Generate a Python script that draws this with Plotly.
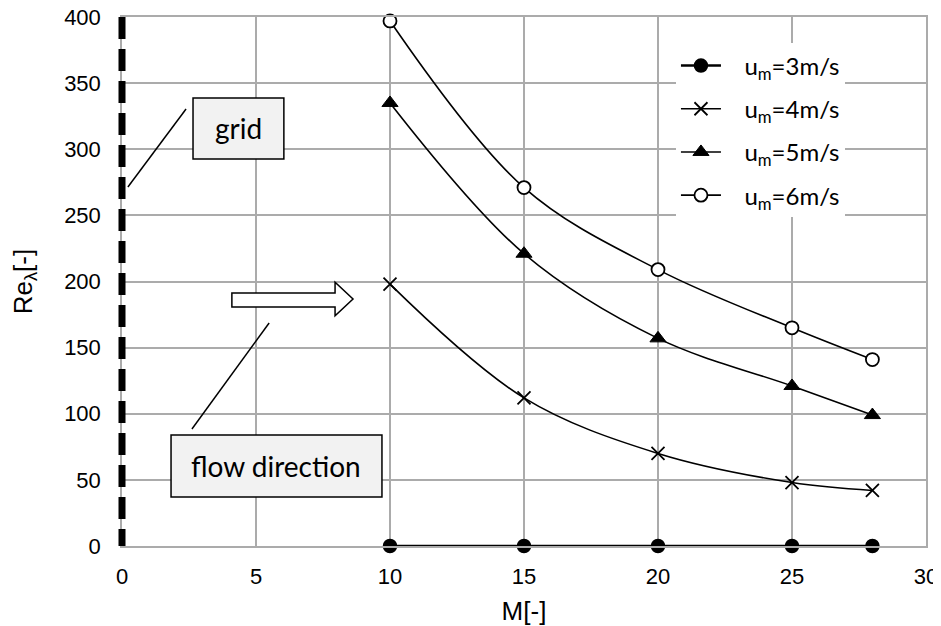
import plotly.graph_objects as go

# ---- data ----
M_values = [10, 15, 20, 25, 28]
re_3ms = [0, 0, 0, 0, 0]
re_4ms = [198, 112, 70, 48, 42]
re_5ms = [335, 221, 157, 121, 99]
re_6ms = [397, 271, 209, 165, 141]
series_names = ["u<sub>m</sub>=3m/s", "u<sub>m</sub>=4m/s", "u<sub>m</sub>=5m/s", "u<sub>m</sub>=6m/s"]
x_ticks = [0, 5, 10, 15, 20, 25, 30]
y_ticks = [0, 50, 100, 150, 200, 250, 300, 350, 400]

LABEL_FONT = "Lato"
TICK_FONT = "Liberation Sans"
PAD = "\u00a0" * 3  # gap between legend symbol and legend text

fig = go.Figure()

styles = [
    dict(symbol="circle", size=13, color="black", line=dict(color="black", width=1.5)),
    dict(symbol="x-thin-open", size=13, color="black", line=dict(color="black", width=1.8)),
    dict(symbol="triangle-up", size=14, color="black", line=dict(color="black", width=1)),
    dict(symbol="circle", size=13, color="white", line=dict(color="black", width=1.8)),
]
widths = [2.6, 1.6, 1.6, 1.6]
for i, (vals, name) in enumerate(zip([re_3ms, re_4ms, re_5ms, re_6ms], series_names)):
    fig.add_trace(go.Scatter(
        x=M_values, y=vals, name=PAD + name, mode="lines+markers",
        line=dict(color="black", width=widths[i], shape="spline", smoothing=1.0),
        marker=styles[i], cliponaxis=False, legendgroup=f"g{i}",
    ))

# dashed thick line marking the grid position (left edge of the plot, x = 0)
fig.add_shape(type="line", x0=0, x1=0, y0=1, y1=0, xref="paper", yref="paper",
              line=dict(color="black", width=7, dash="22px,10px"), layer="above")

# "grid" callout
fig.add_shape(type="line", x0=2.39, y0=330.4, x1=0.22, y1=271.5,
              line=dict(color="black", width=1.5))
fig.add_shape(type="rect", x0=2.65, x1=6.04, y0=292.6, y1=338.8,
              line=dict(color="black", width=1.5), fillcolor="#f2f2f2")
fig.add_annotation(x=4.35, y=315.7, text="grid", showarrow=False,
                   font=dict(family=LABEL_FONT, size=28, color="black"))

# block arrow for flow direction
arrow_path = ("M 4.10,191.3 L 7.95,191.3 L 7.95,199.5 L 8.62,186.8 "
              "L 7.95,174.1 L 7.95,180.7 L 4.10,180.7 Z")
fig.add_shape(type="path", path=arrow_path, xref="x", yref="y",
              line=dict(color="black", width=1.5), fillcolor="white")

# "flow direction" callout
fig.add_shape(type="line", x0=5.49, y0=168.6, x1=2.61, y1=88.5,
              line=dict(color="black", width=1.5))
fig.add_shape(type="rect", x0=1.83, x1=9.70, y0=37.1, y1=83.9,
              line=dict(color="black", width=1.5), fillcolor="#f2f2f2")
fig.add_annotation(x=5.76, y=60.5, text="flow direction", showarrow=False,
                   font=dict(family=LABEL_FONT, size=28, color="black"))

axis_common = dict(
    showgrid=True, gridcolor="#ababab", gridwidth=1.5,
    showline=True, linecolor="#ababab", linewidth=1.5, mirror=True,
    zeroline=False, ticks="", automargin=False, ticklabeloverflow="allow",
    tickfont=dict(family=TICK_FONT, size=22, color="black"),
)

fig.update_xaxes(range=[0, 30], tickvals=x_ticks, ticklabelstandoff=10,
                 title=dict(text="M[-]", font=dict(family=TICK_FONT, size=26, color="black"), standoff=20),
                 **axis_common)
fig.update_yaxes(range=[0, 400], tickvals=y_ticks, ticklabelstandoff=15,
                 title=dict(text="Re<sub>λ</sub>[-]", font=dict(family=TICK_FONT, size=26, color="black"), standoff=24),
                 **axis_common)

# the page body adds an 8px offset, so the figure is 8px smaller than the window
fig.update_layout(
    width=933, height=618,
    margin=dict(l=114, r=15, t=9, b=80, autoexpand=False),
    plot_bgcolor="white", paper_bgcolor="white",
    showlegend=True,
    legend=dict(x=0.689, y=0.950, xanchor="left", yanchor="top",
                bgcolor="white", borderwidth=0,
                font=dict(family=LABEL_FONT, size=24, color="black"),
                traceorder="grouped", tracegroupgap=9, itemwidth=40),
)

fig.write_html("out.html")
